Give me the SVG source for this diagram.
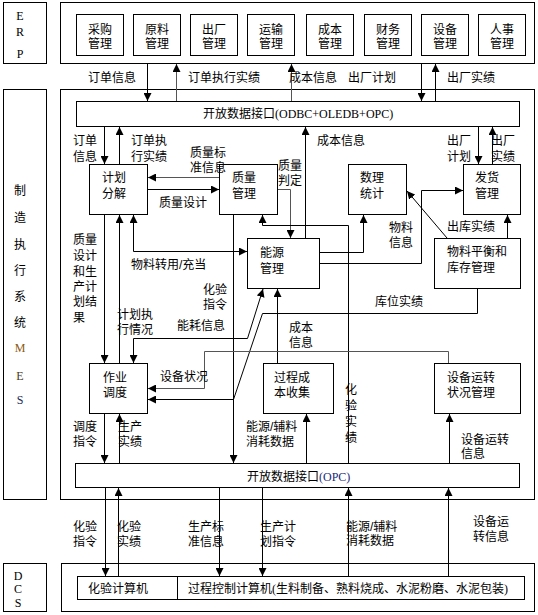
<svg xmlns="http://www.w3.org/2000/svg" width="538" height="615" viewBox="0 0 538 615">
<style>
.b{fill:#fff;stroke:#000;stroke-width:1}
.t{font-family:"Liberation Sans","Noto Sans CJK SC",sans-serif;font-size:12px;fill:#000}
.m{text-anchor:middle}
.s{font-family:"Liberation Serif",serif}
.c{fill:none;stroke:#000;stroke-width:1}
.g{stroke:#555}
</style>
<defs>
<marker id="a" viewBox="0 0 10 10" refX="10" refY="5" markerWidth="8" markerHeight="8" markerUnits="userSpaceOnUse" orient="auto-start-reverse"><path d="M0,0 L10,5 L0,10 z" fill="#000"/></marker>
</defs>
<rect width="538" height="615" fill="#fff"/>

<g id="layer-erp">
<rect class="b" x="3.5" y="2.5" width="43" height="61"/>
<text class="s m" x="20" y="20" font-size="12">E<tspan x="20" dy="16">R</tspan><tspan x="20" dy="22">P</tspan></text>
<rect class="b" x="60.5" y="2.5" width="474" height="61"/>
</g>
<g id="layer-mes">
<rect class="b" x="3.5" y="89.5" width="43" height="410"/>
<text class="t m" x="20" y="194.5">制<tspan x="20" dy="27">造</tspan><tspan x="20" dy="27">执</tspan><tspan x="20" dy="26">行</tspan><tspan x="20" dy="26">系</tspan><tspan x="20" dy="26">统</tspan><tspan class="s" x="20" dy="25.5" fill="#8a5a10">M</tspan><tspan class="s" x="20" dy="28" fill="#4a3a20">E</tspan><tspan class="s" x="20" dy="24" fill="#1a2a5a">S</tspan></text>
<rect class="b" x="60.5" y="89.5" width="474" height="410"/>
</g>
<g id="layer-dcs">
<rect class="b" x="3.5" y="563.5" width="43" height="48"/>
<text class="s m" x="18" y="580" font-size="12">D<tspan x="18" dy="13">C</tspan><tspan x="18" dy="14">S</tspan></text>
<rect class="b" x="61.5" y="563.5" width="473" height="48"/>
</g>

<g id="erp-caigou"><rect class="b" x="76.5" y="14.5" width="47" height="41"/><text class="t m" x="100" y="34">采购<tspan x="100" dy="14">管理</tspan></text></g>
<g id="erp-yuanliao"><rect class="b" x="133.5" y="14.5" width="47" height="41"/><text class="t m" x="157" y="34">原料<tspan x="157" dy="14">管理</tspan></text></g>
<g id="erp-chuchang"><rect class="b" x="190.5" y="14.5" width="47" height="41"/><text class="t m" x="214" y="34">出厂<tspan x="214" dy="14">管理</tspan></text></g>
<g id="erp-yunshu"><rect class="b" x="247.5" y="14.5" width="47" height="41"/><text class="t m" x="271" y="34">运输<tspan x="271" dy="14">管理</tspan></text></g>
<g id="erp-chengben"><rect class="b" x="306.5" y="14.5" width="47" height="41"/><text class="t m" x="330" y="34">成本<tspan x="330" dy="14">管理</tspan></text></g>
<g id="erp-caiwu"><rect class="b" x="364.5" y="14.5" width="47" height="41"/><text class="t m" x="388" y="34">财务<tspan x="388" dy="14">管理</tspan></text></g>
<g id="erp-shebei"><rect class="b" x="421.5" y="14.5" width="47" height="41"/><text class="t m" x="445" y="34">设备<tspan x="445" dy="14">管理</tspan></text></g>
<g id="erp-renshi"><rect class="b" x="478.5" y="14.5" width="47" height="41"/><text class="t m" x="502" y="34">人事<tspan x="502" dy="14">管理</tspan></text></g>

<g id="if-top"><rect class="b" x="76.5" y="101.5" width="443" height="25"/><text class="t" x="203" y="118">开放数据接口<tspan class="s">(ODBC+OLEDB+OPC)</tspan></text></g>
<g id="if-bottom"><rect class="b" x="75.5" y="463.5" width="444" height="24"/><text class="t" x="247" y="481">开放数据接口<tspan class="s" fill="#1a2a7a">(OPC)</tspan></text></g>

<g id="jihua"><rect class="b" x="89.5" y="164.5" width="58" height="50"/><text class="t" x="102" y="182">计划<tspan x="102" dy="16">分解</tspan></text></g>
<g id="zhiliang"><rect class="b" x="219.5" y="164.5" width="58" height="50"/><text class="t" x="232" y="182">质量<tspan x="232" dy="16">管理</tspan></text></g>
<g id="shuli"><rect class="b" x="348.5" y="164.5" width="58" height="50"/><text class="t" x="360" y="182">数理<tspan x="360" dy="16">统计</tspan></text></g>
<g id="fahuo"><rect class="b" x="463.5" y="164.5" width="57" height="50"/><text class="t" x="475" y="182">发货<tspan x="475" dy="16">管理</tspan></text></g>
<g id="nengyuan"><rect class="b" x="247.5" y="238.5" width="72" height="50"/><text class="t" x="260" y="257">能源<tspan x="260" dy="16">管理</tspan></text></g>
<g id="wuliao"><rect class="b" x="434.5" y="238.5" width="86" height="50"/><text class="t" x="447" y="256">物料平衡和<tspan x="447" dy="16">库存管理</tspan></text></g>
<g id="zuoye"><rect class="b" x="89.5" y="363.5" width="58" height="50"/><text class="t" x="103" y="382">作业<tspan x="103" dy="15">调度</tspan></text></g>
<g id="guocheng"><rect class="b" x="263.5" y="363.5" width="70" height="50"/><text class="t" x="274" y="382">过程成<tspan x="274" dy="15">本收集</tspan></text></g>
<g id="shebeiyunzhuan"><rect class="b" x="434.5" y="363.5" width="86" height="50"/><text class="t" x="447" y="382">设备运转<tspan x="447" dy="15">状况管理</tspan></text></g>

<g id="dcs-huayan"><rect class="b" x="77.5" y="576.5" width="100" height="23"/><text class="t" x="88" y="593">化验计算机</text></g>
<g id="dcs-guocheng"><rect class="b" x="177.5" y="576.5" width="347" height="23"/><text class="t" x="188" y="593">过程控制计算机<tspan class="s">(</tspan>生料制备、熟料烧成、水泥粉磨、水泥包装<tspan class="s">)</tspan></text></g>

<g id="connectors">
<path class="c" d="M147.5,64 V101" marker-end="url(#a)"/>
<path class="c g" d="M176.5,101 V64" marker-end="url(#a)"/>
<path class="c g" d="M291.5,101 V64" marker-end="url(#a)"/>
<path class="c" d="M421.5,64 V101" marker-end="url(#a)"/>
<path class="c" d="M435.5,101 V64" marker-end="url(#a)"/>

<path class="c" d="M104.5,127 V164" marker-end="url(#a)"/>
<path class="c" d="M119.5,164 V127" marker-end="url(#a)"/>
<path class="c" d="M305.5,238 V127" marker-end="url(#a)"/>
<path class="c" d="M478.5,127 V164" marker-end="url(#a)"/>
<path class="c" d="M492.5,164 V127" marker-end="url(#a)"/>

<path class="c g" d="M219,177.5 H148" marker-end="url(#a)"/>
<path class="c" d="M148,189.5 H219" marker-end="url(#a)"/>
<path class="c g" d="M278,189.5 H290.5 V238" marker-end="url(#a)"/>
<path class="c" d="M133.5,215 V251.5 H247" marker-start="url(#a)" marker-end="url(#a)"/>
<path class="c" d="M348.5,463 V225.5 H262.5 V215" marker-end="url(#a)"/>
<path class="c" d="M233.5,215 V463" marker-end="url(#a)"/>
<path class="c" d="M320,252.5 H363.5 V215" marker-end="url(#a)"/>
<path class="c" d="M320,263.5 H421.5 V190.5 H463" marker-end="url(#a)"/>
<path class="c" d="M447,238 L407,191" marker-end="url(#a)"/>
<path class="c" d="M507.5,238 V215" marker-end="url(#a)"/>
<path class="c" d="M477.5,289 V313.5 H262.5 L233.5,399.5 H148" marker-end="url(#a)"/>
<path class="c" d="M263,289 L247.5,338.5 H133.5 V363" marker-start="url(#a)" marker-end="url(#a)"/>
<path class="c" d="M277.5,363 V289" marker-end="url(#a)"/>
<path class="c g" d="M448.5,363 V351.5 H204.5 V388.5 H148" marker-end="url(#a)"/>
<path class="c" d="M104.5,215 V363" marker-end="url(#a)"/>
<path class="c" d="M119.5,363 V215" marker-end="url(#a)"/>
<path class="c" d="M104.5,414 V463" marker-end="url(#a)"/>
<path class="c" d="M119.5,463 V414" marker-end="url(#a)"/>
<path class="c" d="M306.5,463 V414" marker-end="url(#a)"/>
<path class="c" d="M449.5,463 V414" marker-end="url(#a)"/>

<path class="c" d="M105.5,488 V576" marker-end="url(#a)"/>
<path class="c" d="M118.5,576 V488" marker-end="url(#a)"/>
<path class="c" d="M219.5,488 V576" marker-end="url(#a)"/>
<path class="c" d="M262.5,488 V576" marker-end="url(#a)"/>
<path class="c" d="M348.5,576 V488" marker-end="url(#a)"/>
<path class="c" d="M448.5,576 V488" marker-end="url(#a)"/>
</g>

<g id="labels" class="t">
<text x="88" y="82">订单信息</text>
<text x="188" y="82">订单执行实绩</text>
<text x="289" y="82">成本信息</text>
<text x="348" y="82">出厂计划</text>
<text x="447" y="82">出厂实绩</text>

<text x="73" y="145">订单<tspan x="73" dy="16">信息</tspan></text>
<text x="131" y="145">订单执<tspan x="131" dy="16">行实绩</tspan></text>
<text x="190" y="157">质量标<tspan x="190" dy="15">准信息</tspan></text>
<text x="159" y="207">质量设计</text>
<text x="278" y="170">质量<tspan x="278" dy="15">判定</tspan></text>
<text x="317" y="145">成本信息</text>
<text x="447" y="145">出厂<tspan x="447" dy="16">计划</tspan></text>
<text x="491" y="145">出厂<tspan x="491" dy="16">实绩</tspan></text>
<text x="447" y="231">出库实绩</text>
<text x="389" y="232">物料<tspan x="389" dy="15">信息</tspan></text>
<text x="131" y="269">物料转用/充当</text>
<text x="73" y="244">质量<tspan x="73" dy="16">设计</tspan><tspan x="73" dy="16">和生</tspan><tspan x="73" dy="15">产计</tspan><tspan x="73" dy="15">划结</tspan><tspan x="73" dy="16">果</tspan></text>
<text x="203" y="294">化验<tspan x="203" dy="15">指令</tspan></text>
<text x="117" y="319">计划执<tspan x="117" dy="15">行情况</tspan></text>
<text x="177" y="330">能耗信息</text>
<text x="289" y="332">成本<tspan x="289" dy="15">信息</tspan></text>
<text x="375" y="306">库位实绩</text>
<text x="160" y="381">设备状况</text>
<text x="73" y="431">调度<tspan x="73" dy="15">指令</tspan></text>
<text x="118" y="431">生产<tspan x="118" dy="15">实绩</tspan></text>
<text x="246" y="431">能源/辅料<tspan x="246" dy="15">消耗数据</tspan></text>
<text x="345" y="394">化<tspan x="345" dy="16">验</tspan><tspan x="345" dy="16">实</tspan><tspan x="345" dy="16">绩</tspan></text>
<text x="461" y="444">设备运转<tspan x="461" dy="14">信息</tspan></text>

<text x="73" y="531">化验<tspan x="73" dy="15">指令</tspan></text>
<text x="117" y="531">化验<tspan x="117" dy="15">实绩</tspan></text>
<text x="188" y="531">生产标<tspan x="188" dy="15">准信息</tspan></text>
<text x="260" y="531">生产计<tspan x="260" dy="15">划指令</tspan></text>
<text x="346" y="531">能源/辅料<tspan x="346" dy="14">消耗数据</tspan></text>
<text x="473" y="526">设备运<tspan x="473" dy="15">转信息</tspan></text>
</g>
</svg>
